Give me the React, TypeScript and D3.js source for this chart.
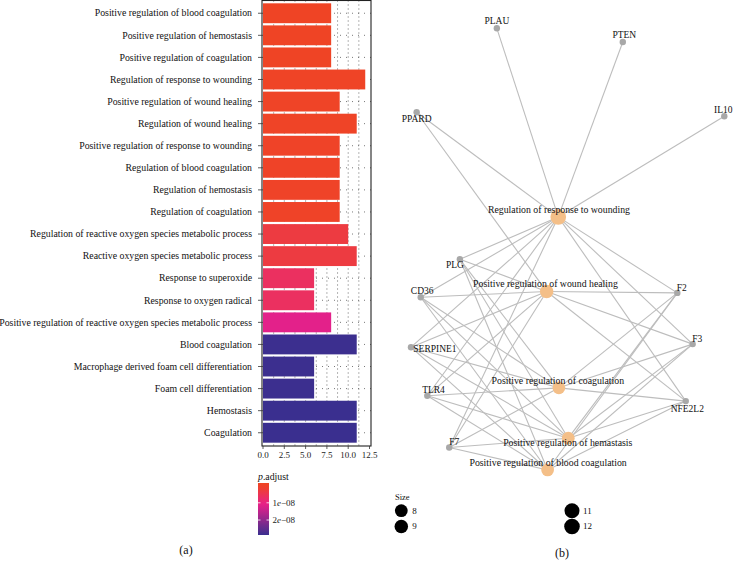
import React from "react";
import * as d3 from "d3";

// ---------- (a) bar chart data ----------
const terms = [
  "Positive regulation of blood coagulation",
  "Positive regulation of hemostasis",
  "Positive regulation of coagulation",
  "Regulation of response to wounding",
  "Positive regulation of wound healing",
  "Regulation of wound healing",
  "Positive regulation of response to wounding",
  "Regulation of blood coagulation",
  "Regulation of hemostasis",
  "Regulation of coagulation",
  "Regulation of reactive oxygen species metabolic process",
  "Reactive oxygen species metabolic process",
  "Response to superoxide",
  "Response to oxygen radical",
  "Positive regulation of reactive oxygen species metabolic process",
  "Blood coagulation",
  "Macrophage derived foam cell differentiation",
  "Foam cell differentiation",
  "Hemostasis",
  "Coagulation",
];
const counts = [8, 8, 8, 12, 9, 11, 9, 9, 9, 9, 10, 11, 6, 6, 8, 11, 6, 6, 11, 11];
const pAdjust = [
  2e-10, 2e-10, 2e-10, 3e-10, 4e-10, 4e-10, 5e-10, 5e-10, 5e-10, 5e-10,
  3.2e-9, 3.2e-9, 6.5e-9, 6.5e-9, 1.15e-8, 2.85e-8, 2.85e-8, 2.85e-8, 2.87e-8, 2.87e-8,
];
const xTicks = [0, 2.5, 5, 7.5, 10, 12.5];
const xGrid = [1.25, 2.5, 3.75, 5, 6.25, 7.5, 8.75, 10, 11.25];
const pBreaks = [1e-8, 2e-8];
const pBreakLabels = ["1", "2"];

// ---------- (b) network data ----------
const geneNames = ["PLAU", "PTEN", "PPARD", "IL10", "PLG", "CD36", "SERPINE1", "TLR4", "F7", "F2", "F3", "NFE2L2"];
const geneLayoutX = [27.4, 67.6, 1.8, 100, 15.6, 3.1, 0, 5.2, 12.2, 85.0, 89.9, 87.7];
const geneLayoutY = [0, 3.1, 19.0, 19.9, 52.3, 60.9, 72.2, 83.2, 94.9, 59.9, 71.5, 84.4];
const goNames = [
  "Regulation of response to wounding",
  "Positive regulation of wound healing",
  "Positive regulation of coagulation",
  "Positive regulation of hemastasis",
  "Positive regulation of blood coagulation",
];
const goLayoutX = [47.0, 43.3, 47.2, 50.2, 43.6];
const goLayoutY = [42.7, 59.6, 81.4, 92.8, 100];
const coreGenes = ["PLG", "CD36", "SERPINE1", "TLR4", "F7", "F2", "F3", "NFE2L2"];
const goGenes = [
  [...coreGenes, "PPARD", "PLAU", "PTEN", "IL10"],
  [...coreGenes, "PPARD"],
  coreGenes,
  coreGenes,
  coreGenes,
];
const sizeBreaks = [8, 9, 11, 12];

// label placement (styling)
const geneLabelOffset: Record<string, [number, number, string]> = {
  PLAU: [0, -7, "middle"],
  PTEN: [1.5, -7, "middle"],
  PPARD: [0, 7, "middle"],
  IL10: [-1, -6.7, "middle"],
  PLG: [-5, 5.7, "middle"],
  CD36: [1.5, -6.3, "middle"],
  SERPINE1: [2.3, 1.7, "start"],
  TLR4: [6.2, -5.7, "middle"],
  F7: [5, -5.6, "middle"],
  F2: [4.4, -5, "middle"],
  F3: [4.5, -5, "middle"],
  NFE2L2: [1.5, 8, "middle"],
};
const goLabelOffset: [number, number][] = [
  [0.7, -7.4],
  [-1.2, -7.7],
  [-1, -7],
  [-0.5, 4.4],
  [0.5, -7.3],
];

const FONT = "'Liberation Serif', 'Times New Roman', serif";

export default function App() {
  // ---- bar chart scales ----
  const panel = { left: 262, right: 371, top: 0.5, bottom: 446 };
  const x = d3.scaleLinear().domain([0, 12.5]).range([263, 369.5]);
  const y = d3
    .scaleBand<string>()
    .domain(terms)
    .range([0, 446])
    .paddingInner(0.1)
    .paddingOuter(0.15);
  const pMax = 2.87e-8;
  const color = d3
    .scaleLinear<string>()
    .domain([0, 1.1e-8, pMax])
    .range(["#EF4523", "#E8218A", "#3A2F8F"])
    .interpolate(d3.interpolateRgb);

  // legend
  const legTop = 483;
  const legBottom = 535;
  const legY = d3.scaleLinear().domain([-1.15e-8 + 1e-8, pMax]).range([legTop, legBottom]);
  const gradStops = d3.range(0, 11).map((i) => i / 10);

  // ---- network scales ----
  const nx = d3.scaleLinear().domain([0, 100]).range([411, 724.3]);
  const ny = d3.scaleLinear().domain([0, 100]).range([28.3, 470]);
  const rSize = d3.scaleSqrt().domain([0, 12]).range([0, 7.8]);
  const genePos: Record<string, [number, number]> = {};
  geneNames.forEach((g, i) => (genePos[g] = [nx(geneLayoutX[i]), ny(geneLayoutY[i])]));
  const edges: { x1: number; y1: number; x2: number; y2: number }[] = [];
  goNames.forEach((_, i) => {
    goGenes[i].forEach((g) => {
      edges.push({
        x1: nx(goLayoutX[i]),
        y1: ny(goLayoutY[i]),
        x2: genePos[g][0],
        y2: genePos[g][1],
      });
    });
  });

  return (
    <svg
      width={734}
      height={571}
      style={{ position: "absolute", left: 0, top: 0, background: "#fff" }}
      fontFamily={FONT}
    >
      <defs>
        <linearGradient id="pgrad" x1="0" y1="0" x2="0" y2="1">
          {gradStops.map((t) => (
            <stop key={t} offset={t} stopColor={color(legY.invert(legTop + t * (legBottom - legTop)) < 0 ? 0 : legY.invert(legTop + t * (legBottom - legTop)))} />
          ))}
        </linearGradient>
      </defs>

      {/* ---------- (a) ---------- */}
      <g>
        {/* grid */}
        {xGrid.map((v) => (
          <line key={"g" + v} x1={x(v)} x2={x(v)} y1={panel.top} y2={panel.bottom} stroke="#444" strokeWidth={0.8} strokeDasharray="1,3" />
        ))}
        {terms.map((t) => (
          <line key={"h" + t} x1={panel.left} x2={panel.right} y1={(y(t) ?? 0) + y.bandwidth() / 2} y2={(y(t) ?? 0) + y.bandwidth() / 2} stroke="#555" strokeWidth={0.8} strokeDasharray="1,5" />
        ))}
        {/* bars */}
        {terms.map((t, i) => (
          <rect key={t} x={x(0)} y={y(t)} width={x(counts[i]) - x(0)} height={y.bandwidth()} fill={color(pAdjust[i])} />
        ))}
        <rect x={panel.left} y={panel.top} width={panel.right - panel.left} height={panel.bottom - panel.top} fill="none" stroke="#222" strokeWidth={1.1} />
        {/* y axis */}
        {terms.map((t) => {
          const cy = (y(t) ?? 0) + y.bandwidth() / 2;
          return (
            <g key={"yl" + t}>
              <line x1={panel.left - 4} x2={panel.left} y1={cy} y2={cy} stroke="#333" strokeWidth={0.8} />
              <text x={panel.left - 10} y={cy} dy="0.33em" textAnchor="end" fontSize={9.8} fill="#111">
                {t}
              </text>
            </g>
          );
        })}
        {/* x axis */}
        {xTicks.map((v) => (
          <g key={"xt" + v}>
            <line x1={x(v)} x2={x(v)} y1={panel.bottom} y2={panel.bottom + 3} stroke="#333" strokeWidth={0.8} />
            <text x={x(v)} y={panel.bottom + 12} textAnchor="middle" fontSize={9} fill="#222">
              {v.toFixed(1)}
            </text>
          </g>
        ))}
        {/* legend */}
        <text x={258} y={480} fontSize={9.8} fill="#111">
          <tspan fontStyle="italic">p</tspan>.adjust
        </text>
        <rect x={258} y={legTop} width={11} height={legBottom - legTop} fill="url(#pgrad)" />
        {pBreaks.map((b, i) => (
          <g key={"lb" + b}>
            <line x1={258} x2={260.5} y1={legY(b)} y2={legY(b)} stroke="#fff" strokeWidth={0.8} />
            <line x1={266.5} x2={269} y1={legY(b)} y2={legY(b)} stroke="#fff" strokeWidth={0.8} />
            <text x={272.5} y={legY(b)} dy="0.33em" fontSize={9} fill="#222">
              {pBreakLabels[i]}
              <tspan fontStyle="italic">e</tspan>−08
            </text>
          </g>
        ))}
        <text x={186} y={554} textAnchor="middle" fontSize={12} fill="#111">
          (a)
        </text>
      </g>

      {/* ---------- (b) ---------- */}
      <g>
        {edges.map((e, i) => (
          <line key={"e" + i} x1={e.x1} y1={e.y1} x2={e.x2} y2={e.y2} stroke="#BDBDBD" strokeWidth={1.1} />
        ))}
        {geneNames.map((g, i) => (
          <circle key={"gn" + g} cx={nx(geneLayoutX[i])} cy={ny(geneLayoutY[i])} r={3.2} fill="#A8A8A8" />
        ))}
        {goNames.map((g, i) => (
          <circle key={"gon" + g} cx={nx(goLayoutX[i])} cy={ny(goLayoutY[i])} r={rSize(goGenes[i].length)} fill="#F4BF88" />
        ))}
        {geneNames.map((g, i) => {
          const [dx, dy, anchor] = geneLabelOffset[g];
          return (
            <text key={"gl" + g} x={nx(geneLayoutX[i]) + dx} y={ny(geneLayoutY[i]) + dy} dy="0.33em" textAnchor={anchor as any} fontSize={9.5} fill="#111">
              {g}
            </text>
          );
        })}
        {goNames.map((g, i) => (
          <text key={"gol" + g} x={nx(goLayoutX[i]) + goLabelOffset[i][0]} y={ny(goLayoutY[i]) + goLabelOffset[i][1]} dy="0.33em" textAnchor="middle" fontSize={9.8} fill="#111">
            {g}
          </text>
        ))}
        {/* size legend */}
        <text x={395} y={499.5} fontSize={8.5} fill="#111">
          Size
        </text>
        {sizeBreaks.map((s, i) => {
          const cx = i < 2 ? 401.3 : 572;
          const cy = i % 2 === 0 ? 510.7 : 526.5;
          return (
            <g key={"sz" + s}>
              <circle cx={cx} cy={cy} r={rSize(s)} fill="#000" />
              <text x={cx + 11} y={cy} dy="0.33em" fontSize={9} fill="#111">
                {s}
              </text>
            </g>
          );
        })}
        <text x={562} y={556.5} textAnchor="middle" fontSize={12} fill="#111">
          (b)
        </text>
      </g>
    </svg>
  );
}
